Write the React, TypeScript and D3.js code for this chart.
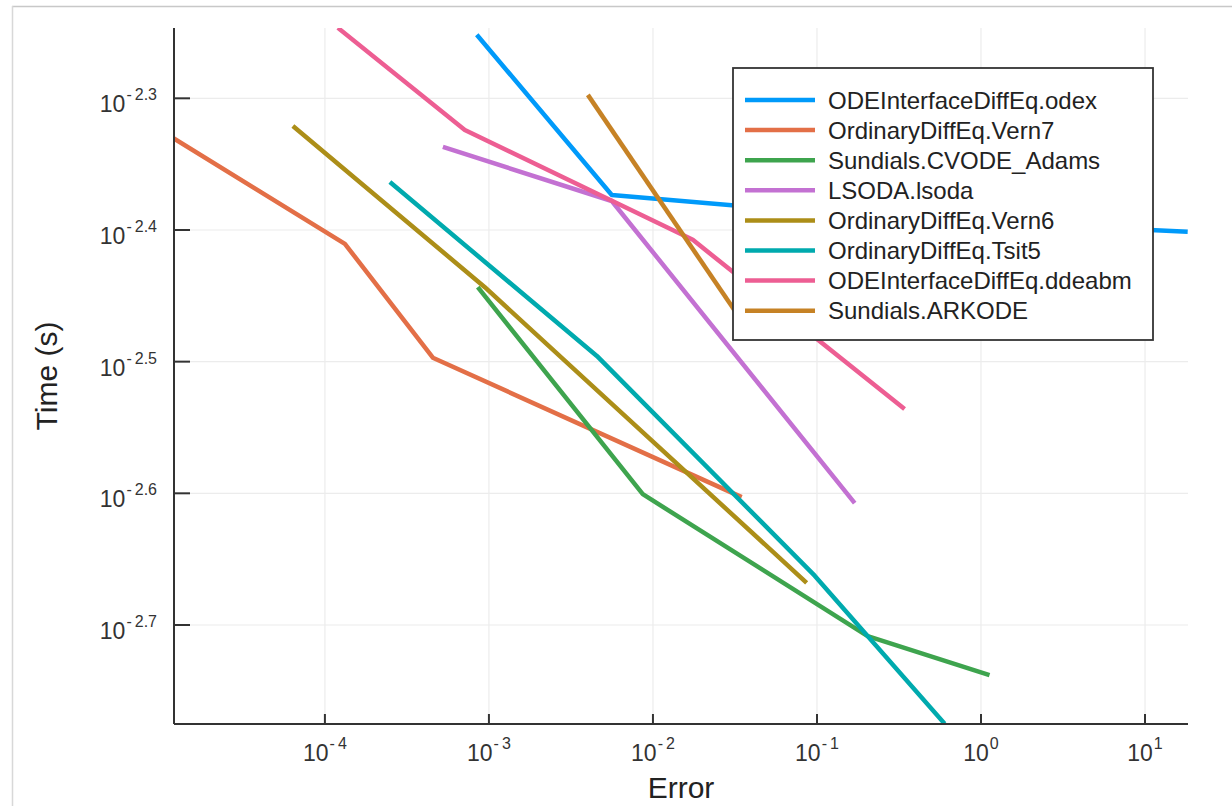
import React, { useEffect, useRef } from "react";
import * as d3 from "d3";

// work-precision style data: error vs time (s)
const seriesNames = [
  "ODEInterfaceDiffEq.odex",
  "OrdinaryDiffEq.Vern7",
  "Sundials.CVODE_Adams",
  "LSODA.lsoda",
  "OrdinaryDiffEq.Vern6",
  "OrdinaryDiffEq.Tsit5",
  "ODEInterfaceDiffEq.ddeabm",
  "Sundials.ARKODE",
];
const seriesColors = ["#009AFA", "#E36F47", "#3EA44E", "#C371D2", "#AC8E18", "#00AAAE", "#ED5E93", "#C68225"];

const odexErr = [8.43e-4, 5.61e-3, 0.2096, 18.2];
const odexTime = [5.601e-3, 4.232e-3, 4.073e-3, 3.968e-3];
const vern7Err = [1.186e-5, 1.324e-4, 4.55e-4, 3.475e-2];
const vern7Time = [4.676e-3, 3.886e-3, 3.184e-3, 2.495e-3];
const adamsErr = [8.55e-4, 8.67e-3, 0.2037, 1.127];
const adamsTime = [3.602e-3, 2.508e-3, 1.957e-3, 1.828e-3];
const lsodaErr = [5.24e-4, 5.61e-3, 0.1698];
const lsodaTime = [4.603e-3, 4.188e-3, 2.469e-3];
const vern6Err = [6.38e-5, 9.44e-4, 8.65e-2];
const vern6Time = [4.775e-3, 3.602e-3, 2.148e-3];
const tsit5Err = [2.49e-4, 4.55e-3, 9.68e-2, 0.6];
const tsit5Time = [4.329e-3, 3.194e-3, 2.175e-3, 1.679e-3];
const ddeabmErr = [1.2e-4, 7.13e-4, 1.75e-2, 0.342];
const ddeabmTime = [5.669e-3, 4.741e-3, 3.913e-3, 2.911e-3];
const arkodeErr = [4.01e-3, 3.62e-2];
const arkodeTime = [5.042e-3, 3.371e-3];

const allErr = [odexErr, vern7Err, adamsErr, lsodaErr, vern6Err, tsit5Err, ddeabmErr, arkodeErr];
const allTime = [odexTime, vern7Time, adamsTime, lsodaTime, vern6Time, tsit5Time, ddeabmTime, arkodeTime];

const xTickExps = [-4, -3, -2, -1, 0, 1];
const yTickExps = [-2.3, -2.4, -2.5, -2.6, -2.7];

const W = 1232;
const H = 806;
const FONT = "'Liberation Sans', Arial, Helvetica, sans-serif";

const App = () => {
  const svgRef = useRef<SVGSVGElement>(null);

  useEffect(() => {
    const svg = d3.select(svgRef.current);
    svg.selectAll("*").remove();

    const left = 174, right = 1188, top = 28, bottom = 724;

    const x = d3.scaleLog().domain([Math.pow(10, -4.92), Math.pow(10, 1.262)]).range([left, right]);
    const y = d3.scaleLog().domain([Math.pow(10, -2.7752), Math.pow(10, -2.2466)]).range([bottom, top]);

    // screenshot frame
    svg.append("line").attr("x1", 12).attr("x2", W).attr("y1", 6.5).attr("y2", 6.5)
      .attr("stroke", "#c8c8c8").attr("stroke-width", 1.5);
    svg.append("line").attr("x1", 12.5).attr("x2", 12.5).attr("y1", 6).attr("y2", H)
      .attr("stroke", "#d8d8d8").attr("stroke-width", 1.5);

    // grid
    const grid = svg.append("g");
    xTickExps.forEach((e) => {
      const px = x(Math.pow(10, e));
      grid.append("line").attr("x1", px).attr("x2", px).attr("y1", top).attr("y2", bottom)
        .attr("stroke", "#ececec").attr("stroke-width", 1.2);
    });
    yTickExps.forEach((e) => {
      const py = y(Math.pow(10, e));
      grid.append("line").attr("x1", left).attr("x2", right).attr("y1", py).attr("y2", py)
        .attr("stroke", "#ececec").attr("stroke-width", 1.2);
    });

    // lines
    svg.append("clipPath").attr("id", "plotclip").append("rect")
      .attr("x", left).attr("y", top).attr("width", right - left).attr("height", bottom - top);
    const lineGen = d3.line<[number, number]>().x((d) => x(d[0])).y((d) => y(d[1]));
    const lines = svg.append("g").attr("clip-path", "url(#plotclip)");
    allErr.forEach((errs, i) => {
      const pts = errs.map((e, j) => [e, allTime[i][j]] as [number, number]);
      lines.append("path").datum(pts).attr("d", lineGen).attr("fill", "none")
        .attr("stroke", seriesColors[i]).attr("stroke-width", 4.5).attr("stroke-linejoin", "round");
    });

    // axes
    const axisColor = "#333";
    svg.append("line").attr("x1", left).attr("x2", right).attr("y1", bottom).attr("y2", bottom)
      .attr("stroke", axisColor).attr("stroke-width", 2);
    svg.append("line").attr("x1", left).attr("x2", left).attr("y1", top).attr("y2", bottom)
      .attr("stroke", axisColor).attr("stroke-width", 2);

    const fmt = (e: number) => (e < 0 ? { sign: "-", num: String(Math.abs(e)) } : { sign: "", num: String(e) });

    xTickExps.forEach((e) => {
      const px = x(Math.pow(10, e));
      svg.append("line").attr("x1", px).attr("x2", px).attr("y1", bottom).attr("y2", bottom - 10)
        .attr("stroke", axisColor).attr("stroke-width", 2);
      const f = fmt(e);
      const t = svg.append("text").attr("x", px).attr("y", 761).attr("text-anchor", "middle")
        .attr("font-family", FONT).attr("fill", "#333");
      t.append("tspan").attr("font-size", 23).text("10");
      if (f.sign) t.append("tspan").attr("font-size", 16).attr("dy", -12).attr("dx", 1).text(f.sign);
      t.append("tspan").attr("font-size", 16).attr("dy", f.sign ? 0 : -12).attr("dx", f.sign ? 3 : 1).text(f.num);
    });

    yTickExps.forEach((e) => {
      const py = y(Math.pow(10, e));
      svg.append("line").attr("x1", left).attr("x2", left + 16).attr("y1", py).attr("y2", py)
        .attr("stroke", axisColor).attr("stroke-width", 2);
      const f = fmt(e);
      const t = svg.append("text").attr("x", 157).attr("y", py + 14).attr("text-anchor", "end")
        .attr("font-family", FONT).attr("fill", "#333");
      t.append("tspan").attr("font-size", 23).text("10");
      t.append("tspan").attr("font-size", 16).attr("dy", -12).attr("dx", 1).text(f.sign);
      t.append("tspan").attr("font-size", 16).attr("dx", 3).text(f.num);
    });

    // axis titles
    svg.append("text").attr("x", (left + right) / 2).attr("y", 798).attr("text-anchor", "middle")
      .attr("font-family", FONT).attr("font-size", 30).attr("fill", "#222").text("Error");
    svg.append("text").attr("transform", `translate(57, ${(top + bottom) / 2}) rotate(-90)`)
      .attr("text-anchor", "middle").attr("font-family", FONT).attr("font-size", 30)
      .attr("fill", "#222").text("Time (s)");

    // legend
    const lg = svg.append("g");
    lg.append("rect").attr("x", 733).attr("y", 68).attr("width", 420).attr("height", 272)
      .attr("fill", "#fff").attr("stroke", "#333").attr("stroke-width", 1.8);
    seriesNames.forEach((name, i) => {
      const ry = 100 + i * 30.1;
      lg.append("line").attr("x1", 745).attr("x2", 815).attr("y1", ry).attr("y2", ry)
        .attr("stroke", seriesColors[i]).attr("stroke-width", 4.5);
      lg.append("text").attr("x", 828).attr("y", ry + 8.5).attr("font-family", FONT)
        .attr("font-size", 24).attr("fill", "#222").text(name);
    });
  }, []);

  return (
    <svg
      ref={svgRef}
      width={W}
      height={H}
      style={{ position: "absolute", left: 0, top: 0, background: "#fff" }}
    ></svg>
  );
};

export default App;
